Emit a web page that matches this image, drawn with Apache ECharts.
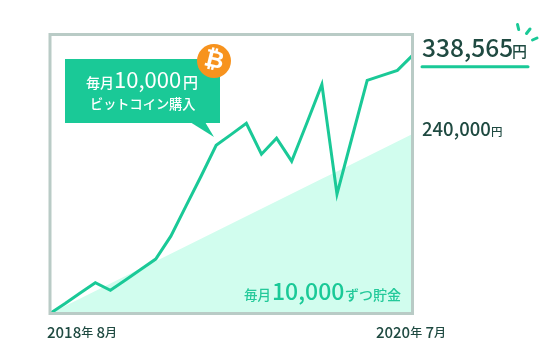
<!DOCTYPE html>
<html>
<head>
<meta charset="utf-8">
<style>
  html, body { margin: 0; padding: 0; background: #fff; }
  #chart { width: 557px; height: 358px; }
</style>
</head>
<body>
<div id="chart"></div>
<script src="https://cdn.jsdelivr.net/npm/echarts@6/dist/echarts.min.js"></script>
<script>
const months = ['2018年 8月', '2018年 8月', '2018年 9月', '2018年 10月', '2018年 11月', '2018年 12月', '2019年 1月', '2019年 2月', '2019年 3月', '2019年 4月', '2019年 5月', '2019年 6月', '2019年 7月', '2019年 8月', '2019年 9月', '2019年 10月', '2019年 11月', '2019年 12月', '2020年 1月', '2020年 2月', '2020年 3月', '2020年 4月', '2020年 5月', '2020年 6月', '2020年 7月'];
const bitcoinValues = [0, 13000, 27000, 40300, 30400, 43900, 57600, 71400, 101500, 140800, 180100, 220700, 235000, 249500, 209000, 229900, 199800, 249500, 300600, 156500, 231200, 305900, 312400, 319000, 338565];
const savingValues = [0, 10000, 20000, 30000, 40000, 50000, 60000, 70000, 80000, 90000, 100000, 110000, 120000, 130000, 140000, 150000, 160000, 170000, 180000, 190000, 200000, 210000, 220000, 230000, 240000];

const green = '#1ac997';
const dark = '#1f4a41';
const font = '"Noto Sans CJK JP", "Noto Sans", sans-serif';

// one run of text, baseline near y (text is drawn from its middle)
function run(x, y, text, size, fill, weight) {
  return {
    type: 'text',
    z: 20,
    style: {
      x: x, y: y - 0.44 * size, text: text, fill: fill,
      font: (weight || 500) + ' ' + size + 'px ' + font,
      align: 'left',
      verticalAlign: 'middle',
    },
  };
}

function stroke(x1, y1, x2, y2, width) {
  return {
    type: 'line',
    z: 20,
    shape: { x1: x1, y1: y1, x2: x2, y2: y2 },
    style: { stroke: green, lineWidth: width, lineCap: 'round' },
  };
}

let chart = echarts.init(document.getElementById('chart'), null, { renderer: 'canvas' });

let option = {
  animation: false,
  backgroundColor: '#fff',
  grid: {
    show: true,
    z: 10,
    left: 50,
    right: 144.5,
    top: 34.5,
    bottom: 44.5,
    borderColor: '#b9cbc6',
    borderWidth: 3,
    backgroundColor: 'transparent',
  },
  xAxis: {
    type: 'category',
    boundaryGap: false,
    data: months,
    axisLine: { show: false },
    axisTick: { show: false },
    axisLabel: {
      interval: function (i) { return i === 0 || i === months.length - 1; },
      alignMinLabel: 'left',
      padding: [0, 0, 0, -3],
      margin: 11,
      formatter: function (v) {
        return v.replace(/(\d+)年 (\d+)月/, '{n|$1}{u|年} {n|$2}{u|月}');
      },
      rich: {
        n: { fontFamily: font, fontSize: 15, fontWeight: 500, color: dark },
        u: { fontFamily: font, fontSize: 12, fontWeight: 500, color: dark },
      },
    },
  },
  // the drawing isn't quite to one scale, so each series has its own hidden axis
  yAxis: [
    { type: 'value', min: 0, max: 366000, show: false },
    { type: 'value', min: 0, max: 373000, show: false },
  ],
  series: [
    {
      name: '貯金',
      type: 'line',
      yAxisIndex: 1,
      data: savingValues,
      showSymbol: false,
      lineStyle: { width: 0 },
      areaStyle: { color: '#d1fdee', opacity: 1 },
      z: 1,
    },
    {
      name: 'ビットコイン',
      type: 'line',
      yAxisIndex: 0,
      data: bitcoinValues,
      showSymbol: false,
      lineStyle: { color: green, width: 3, join: 'miter' },
      z: 3,
    },
  ],
  graphic: [
    // callout
    { type: 'rect', z: 15, shape: { x: 65, y: 59, width: 155, height: 64 }, style: { fill: green } },
    { type: 'polygon', z: 15, shape: { points: [[190, 122], [214, 137], [205, 122]] }, style: { fill: green } },
    { type: 'circle', z: 16, shape: { cx: 214, cy: 61, r: 17 }, style: { fill: '#f7931e' } },
    {
      type: 'text', z: 17, rotation: -0.24, x: 214, y: 61,
      style: {
        x: 0, y: 0, text: '₿', fill: '#fff', font: '700 24px "DejaVu Sans", sans-serif',
        align: 'center', verticalAlign: 'middle',
      },
    },
    run(86, 89, '毎月', 14, '#fff'),
    run(114, 89, '10,000', 22, '#fff', 400),
    run(183, 89, '円', 15, '#fff'),
    run(90, 110, 'ビットコイン購入', 13.2, '#fff'),
    // right side values
    run(422, 58, '338,565', 24.5, dark),
    run(512, 58, '円', 15, dark),
    stroke(422, 66.7, 528, 66.7, 3),
    stroke(517.5, 24.5, 518.7, 29.5, 3),
    stroke(530, 29, 526.5, 33.5, 3),
    stroke(537, 38, 532.5, 40, 3),
    run(422, 137, '240,000', 18.5, dark),
    run(491, 137, '円', 11.5, dark),
    // inside the savings area
    run(244, 301, '毎月', 13.5, '#24c99a'),
    run(272, 301, '10,000', 23, '#1ac997'),
    run(345, 301, 'ずつ貯金', 14, '#24c99a'),
  ],
};

chart.setOption(option);
window.addEventListener('resize', chart.resize);
</script>
</body>
</html>
